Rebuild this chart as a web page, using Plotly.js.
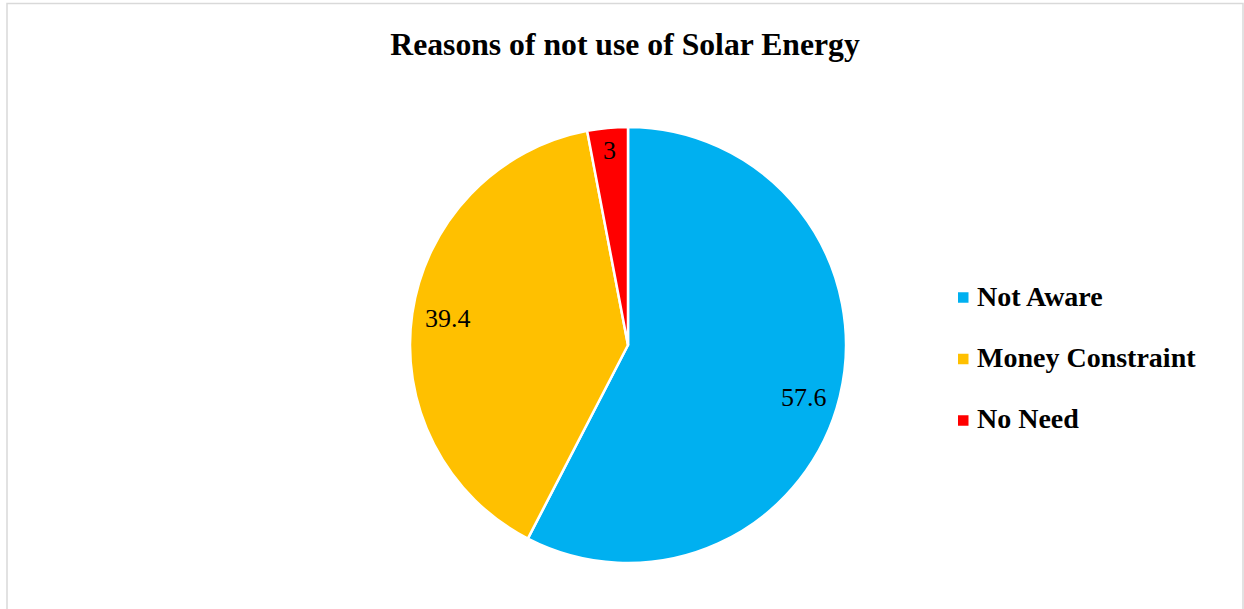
<!DOCTYPE html>
<html>
<head>
<meta charset="utf-8">
<script src="https://cdn.plot.ly/plotly-3.0.1.min.js"></script>
<style>
  html, body { margin: 0; padding: 0; background: #ffffff; }
  #chart { width: 1244px; height: 609px; }
</style>
</head>
<body>
<div id="chart"></div>
<script>
// Survey results: reasons for not using solar energy (percent of respondents)
const reasons = ["Not Aware", "Money Constraint", "No Need"];
const shares = [57.6, 39.4, 3];
const sliceColors = ["#00B0F0", "#FFC000", "#FF0000"];
const chartTitle = "Reasons of not use of Solar Energy";

const W = 1244, H = 609;
const serif = "Liberation Serif, Times New Roman, serif";

// Pie geometry in pixels
const cx = 628, cy = 345, R = 218;
const domainX = [(cx - R) / W, (cx + R) / W];
const domainY = [(H - cy - R) / H, (H - cy + R) / H];

// Value labels sit just inside the rim of each slice, along its mid angle;
// labels in the lower half hang below the anchor point on the ray
const labelSize = 26;
const ctx = document.createElement("canvas").getContext("2d");
ctx.font = labelSize + "px 'Liberation Serif'";
const total = shares.reduce((a, b) => a + b, 0);
const annotations = [];
let start = 0;
shares.forEach((v, i) => {
  const mid = (start + v / 2) / total * 2 * Math.PI;
  start += v;
  const ux = Math.sin(mid), uy = -Math.cos(mid);
  const txt = String(v);
  const hw = ctx.measureText(txt).width / 2, hh = labelSize * 0.38;
  const r = R - 12 - (hw * Math.abs(ux) + hh * Math.abs(uy));
  const px = cx + r * ux;
  const py = cy + r * uy + (uy > 0 ? hh : 0);
  annotations.push({
    xref: "paper", yref: "paper",
    x: px / W, y: (H - py) / H,
    xanchor: "center", yanchor: "middle",
    text: txt, showarrow: false,
    font: { family: serif, size: labelSize, color: "#000000" }
  });
});

// Legend drawn as colored squares with bold labels
const shapes = [];
const legX = 958, legY0 = 297.5, legStep = 61.5, sq = 10.5;
reasons.forEach((name, i) => {
  const y = legY0 + i * legStep;
  shapes.push({
    type: "rect", xref: "paper", yref: "paper",
    x0: legX / W, x1: (legX + sq) / W,
    y0: (H - y - sq / 2) / H, y1: (H - y + sq / 2) / H,
    fillcolor: sliceColors[i], line: { width: 0 }
  });
  annotations.push({
    xref: "paper", yref: "paper",
    x: 975 / W, y: (H - y + 1.5) / H,
    xanchor: "left", yanchor: "middle",
    text: name, showarrow: false,
    font: { family: serif, size: 28, weight: 700, color: "#000000" }
  });
});

// Chart area border
shapes.push({
  type: "rect", xref: "paper", yref: "paper",
  x0: 7 / W, x1: 1243 / W, y0: -0.05, y1: (H - 3.5) / H,
  line: { color: "#D9D9D9", width: 1.5 }, fillcolor: "rgba(0,0,0,0)"
});

const data = [{
  type: "pie",
  labels: reasons,
  values: shares,
  sort: false,
  direction: "clockwise",
  rotation: 0,
  marker: { colors: sliceColors, line: { color: "#FFFFFF", width: 2.5 } },
  textinfo: "none",
  hoverinfo: "label+value",
  domain: { x: domainX, y: domainY },
  showlegend: false
}];

const layout = {
  width: W, height: H,
  margin: { l: 0, r: 0, t: 0, b: 0 },
  paper_bgcolor: "#FFFFFF",
  showlegend: false,
  title: {
    text: chartTitle,
    font: { family: serif, size: 31.7, weight: 700, color: "#000000" },
    x: 625 / W, xanchor: "center",
    y: 1 - 43.5 / H, yanchor: "middle", yref: "container"
  },
  annotations: annotations,
  shapes: shapes
};

Plotly.newPlot("chart", data, layout, { displayModeBar: false, staticPlot: true });
</script>
</body>
</html>
